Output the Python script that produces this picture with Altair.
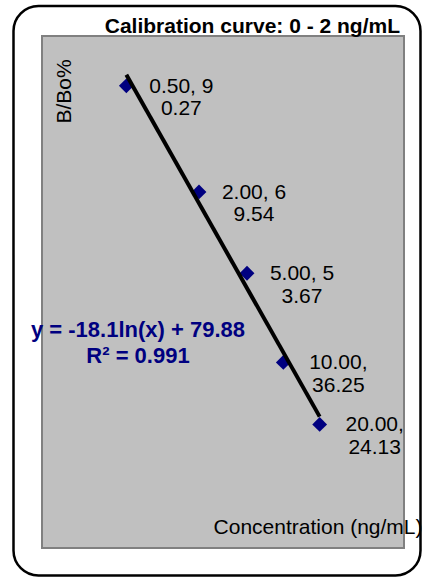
import altair as alt
import numpy as np
import pandas as pd

# Standards: concentration (ng/mL) and response (B/Bo %)
concentration = [0.5, 2.0, 5.0, 10.0, 20.0]
b_bo = [90.27, 69.54, 53.67, 36.25, 24.13]
# number of characters kept on the first line of each wrapped point label
label_wrap = [7, 7, 7, 6, 6]

# logarithmic fit reported on the chart
fit_slope = -18.1
fit_intercept = 79.88
fit_r2 = 0.991

title_text = "Calibration curve: 0 - 2 ng/mL"
x_title = "Concentration (ng/mL)"
y_title = "B/Bo%"

FONT = "Liberation Sans"
NAVY = "#000080"

labels = []
for c, v, w in zip(concentration, b_bo, label_wrap):
    s = f"{c:.2f}, {v:.2f}"
    labels.append(s[:w].strip() + "\n" + s[w:].strip())

points = pd.DataFrame({"conc": concentration, "bbo": b_bo, "label": labels})

trend_x = np.array([concentration[0], concentration[-1]])
trend = pd.DataFrame({"conc": trend_x,
                      "bbo": fit_slope * np.log(trend_x) + fit_intercept})

equation = pd.DataFrame({"t": [f"y = {fit_slope}ln(x) + {fit_intercept}\nR² = {fit_r2}"]})

x_scale = alt.Scale(type="log", domain=[0.1, 100], nice=False)
y_scale = alt.Scale(domain=[0, 100], nice=False, zero=False)

x_axis = alt.Axis(labels=False, ticks=False, domain=False, grid=False,
                  title=x_title, titleFont=FONT, titleFontSize=21,
                  titleFontWeight="normal", titleColor="black",
                  titleAlign="right", titleAnchor="end", titleBaseline="alphabetic",
                  titleX=380, titleY=-14.5)
y_axis = alt.Axis(labels=False, ticks=False, domain=False, grid=False,
                  title=y_title, titleFont=FONT, titleFontSize=21,
                  titleFontWeight="normal", titleColor="black",
                  titleAngle=270, titleAlign="center", titleBaseline="alphabetic",
                  titleX=28, titleY=55)

frame = alt.Chart(pd.DataFrame({"a": [0]})).mark_rect(
    cornerRadius=25, fillOpacity=0, stroke="black", strokeWidth=2.5
).encode(x=alt.value(-28.5), x2=alt.value(378.5), y=alt.value(-30), y2=alt.value(539.5))

markers = alt.Chart(points).mark_point(
    shape="diamond", filled=True, size=220, color=NAVY, opacity=1
).encode(
    x=alt.X("conc:Q", scale=x_scale, axis=x_axis),
    y=alt.Y("bbo:Q", scale=y_scale, axis=y_axis),
)

trend_line = alt.Chart(trend).mark_line(color="black", strokeWidth=4).encode(
    x=alt.X("conc:Q", scale=x_scale),
    y=alt.Y("bbo:Q", scale=y_scale),
)

point_labels = alt.Chart(points).mark_text(
    align="center", baseline="middle", dx=55, dy=1, lineBreak="\n",
    lineHeight=22.5, font=FONT, fontSize=21, color="black"
).encode(
    x=alt.X("conc:Q", scale=x_scale),
    y=alt.Y("bbo:Q", scale=y_scale),
    text="label:N",
)

eq_text = alt.Chart(equation).mark_text(
    align="center", baseline="alphabetic", lineBreak="\n", lineHeight=26.6,
    font=FONT, fontSize=22, fontWeight="bold", color=NAVY
).encode(x=alt.value(96), y=alt.value(300.7), text="t:N")

chart = alt.layer(frame, markers, trend_line, point_labels, eq_text).properties(
    width=362, height=512,
    title=alt.Title(title_text, anchor="end", font=FONT, fontSize=21,
                    fontWeight="bold", color="black", dx=-22, dy=49, offset=0,
                    baseline="alphabetic"),
    autosize=alt.AutoSizeParams(type="none"),
    padding={"left": 42, "top": 36, "right": 18, "bottom": 30},
    background="white",
).configure_view(fill="#C0C0C0", stroke="#808080", strokeWidth=2)

chart.save("out.html", embed_options={"renderer": "svg", "actions": False})
